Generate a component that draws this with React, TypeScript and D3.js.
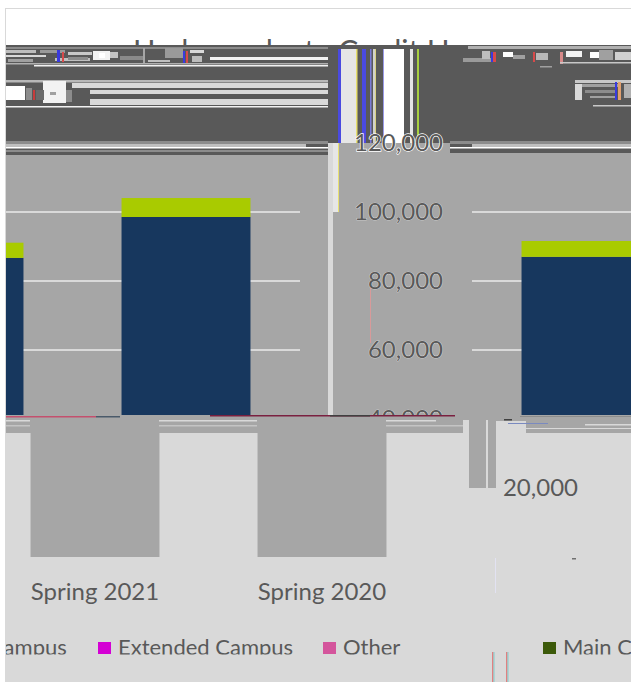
import React, { useEffect, useRef } from "react";
import * as d3 from "d3";

const terms = ["Spring 2022", "Spring 2021", "Spring 2020"];
const mainHours = [86700, 98550, 87000];
const regionalHours = [4400, 5500, 4600];
const yTicks = [0, 20000, 40000, 60000, 80000, 100000, 120000];
const legendLabels = ["Regional Campus", "Extended Campus", "Other", "Main Campus"];
const legendColors = ["#7f7f7f", "#d400d4", "#d4559c", "#3c5a0a"];
const legendX = [-119, 98, 323, 543];

const width = 631;
const height = 682;
const font = "Lato, 'Open Sans', sans-serif";

// the picture is broken up: these pieces are not data, just the damaged bands
type Piece = [number, number, number, number, string];
const dark = "#595959";
const panel = "#a6a6a6";
const pale = "#d9d9d9";

const backdrop: Piece[] = [
  [5, 8, 626, 674, pale],
  [6, 9, 625, 36, "#ffffff"],
  [6, 45, 625, 98, dark],
  [6, 143, 625, 290, panel],
  [6, 140, 322, 15, dark],
  [450, 140, 181, 13, dark],
];

const streaks: Piece[] = [
  // left text rows
  [6, 47, 322, 2, "#8c8c8c"],
  [34, 65, 294, 1.5, "#f2f2f2"],
  [6, 63, 322, 1.5, "#b0b0b0"],
  [210, 57, 118, 3, "#f2f2f2"],
  [6, 80, 322, 2.5, "#b8b8b8"],
  [72, 83, 256, 5, pale],
  [90, 90, 238, 4, pale],
  [90, 99, 238, 6, pale],
  [6, 106, 322, 1.5, "#f2f2f2"],
  [6, 141, 322, 3, "#8c8c8c"],
  [6, 144, 300, 3, "#bfbfbf"],
  [6, 147, 322, 1.5, "#ffffff"],
  [6, 150, 322, 2, "#8c8c8c"],
  // blocks of squashed text
  [6, 86, 19, 14, "#ffffff"],
  [43, 81, 23, 22, "#f2f2f2"],
  [50, 92, 6, 3, "#a0a0a0"],
  [66, 90, 6, 12, "#8c8c8c"],
  [26, 88, 6, 12, "#8c8c8c"],
  [33, 90, 2, 10, "#c83c3c"],
  [36, 90, 8, 10, "#6a6a6a"],
  [6, 50, 30, 3, "#bdbdbd"],
  [6, 55, 40, 2, pale],
  [8, 59, 25, 3, "#a0a0a0"],
  [40, 50, 25, 3, "#9a9a9a"],
  [55, 58, 35, 3, "#c0c0c0"],
  [57, 50, 3, 12, "#3a3adf"],
  [62, 52, 2, 10, "#d84a4a"],
  [68, 52, 24, 3, "#c8c8c8"],
  [68, 57, 20, 3, "#8c8c8c"],
  [93, 51, 17, 9, "#f2f2f2"],
  [99, 53, 6, 5, "#ffffff"],
  [110, 52, 8, 6, "#c4c4c4"],
  [120, 56, 24, 4, "#8a8a8a"],
  [143, 48, 2, 15, "#a6a6a6"],
  [148, 60, 22, 2, "#c0c0c0"],
  [165, 48, 18, 10, "#9a9a9a"],
  [183, 51, 2, 12, "#3a3adf"],
  [186, 51, 2, 12, "#d84a4a"],
  [190, 50, 14, 3, pale],
  [192, 56, 10, 6, "#bdbdbd"],
  // right text rows
  [468, 46, 163, 3, "#b0b0b0"],
  [463, 58, 28, 4, "#9a9a9a"],
  [482, 51, 8, 8, "#bdbdbd"],
  [491, 52, 2, 10, "#3a3adf"],
  [493, 52, 3, 10, "#d84a4a"],
  [503, 52, 10, 5, "#ffffff"],
  [513, 55, 12, 4, "#a0a0a0"],
  [533, 52, 2, 10, "#d84a4a"],
  [536, 53, 12, 7, "#b8b8b8"],
  [560, 52, 3, 12, "#d88a8a"],
  [566, 51, 16, 6, "#f2f2f2"],
  [590, 52, 9, 6, "#ffffff"],
  [599, 50, 14, 10, "#a0a0a0"],
  [615, 52, 16, 8, "#d0d0d0"],
  [560, 62, 71, 1.5, "#c8c8c8"],
  [540, 66, 12, 1.5, "#a0a0a0"],
  [575, 80, 56, 3, "#c8c8c8"],
  [575, 84, 7, 16, pale],
  [582, 84, 38, 3, "#a0a0a0"],
  [585, 90, 30, 3, "#8c8c8c"],
  [590, 96, 25, 2, "#a0a0a0"],
  [615, 82, 2, 18, "#3a3adf"],
  [618, 82, 3, 18, "#e0a070"],
  [624, 84, 7, 14, "#b0b0b0"],
  [593, 105, 38, 1.5, "#c8c8c8"],
  [450, 141, 181, 3, "#8c8c8c"],
  [472, 144, 159, 3, "#bfbfbf"],
  [450, 147, 181, 1.5, "#ffffff"],
  // column of stretched text
  [338, 49, 3, 94, "#4a4ae0"],
  [341, 49, 15, 94, "#e6e6e6"],
  [356, 49, 1.5, 94, "#e8e070"],
  [362, 49, 4, 94, "#4a4ae0"],
  [370, 49, 1.5, 94, "#7a7ad8"],
  [373, 49, 2, 94, "#d0d0d0"],
  [375, 49, 1, 94, "#d8d080"],
  [383, 49, 1, 94, "#9a9ae8"],
  [384, 49, 20, 94, "#ffffff"],
  [410, 49, 3, 94, "#e6e6e6"],
  [417, 49, 2, 94, "#a8d040"],
  // strip beside the axis
  [328, 143, 5, 272, pale],
  [333, 143, 5, 69, "#e6e6e6"],
  [338, 143, 1, 69, "#e8e070"],
  [370, 287, 1, 56, "#d89a9a"],
  // seam under the plot
  [6, 416, 90, 1.5, "#c4506e"],
  [96, 416, 24, 1.5, "#4a5a6a"],
  [210, 415, 245, 1.5, "#7a2040"],
  [330, 415, 40, 1.5, "#404040"],
  [520, 416, 111, 1, "#8c8c8c"],
  [6, 420, 24, 1.5, pale],
  [159, 420, 98, 1.5, pale],
  [386, 420, 50, 1.5, pale],
  [6, 425, 24, 1.5, "#c4c4c4"],
  [159, 425, 98, 1.5, "#c4c4c4"],
  [386, 425, 77, 1.5, "#c4c4c4"],
  [585, 424, 46, 1.5, pale],
  // lower right notch
  [463, 420, 6, 13, pale],
  [469, 420, 17, 68, panel],
  [486, 420, 2, 68, pale],
  [488, 420, 8, 68, panel],
  [496, 421, 30, 12, pale],
  [504, 419, 8, 1.5, "#404040"],
  [508, 423, 40, 1, "#7a8ac0"],
  [526, 428, 105, 1, pale],
  [572, 558, 4, 1.5, "#707070"],
  [495, 558, 1, 35, "#e2e2f2"],
  [492, 652, 1.5, 30, "#e08080"],
  [493.5, 652, 1, 30, "#80d0d0"],
  [506, 652, 1.5, 30, "#e08080"],
  [507.5, 652, 1, 30, "#80d0d0"],
];

export default function App() {
  const svgRef = useRef<SVGSVGElement>(null);

  useEffect(() => {
    if (!svgRef.current) return;

    const svg = d3.select(svgRef.current);
    svg.selectAll("*").remove();

    const x = d3
      .scaleBand()
      .domain(terms)
      .range([-245.5, 435.5])
      .paddingInner(0.432)
      .paddingOuter(0.216);
    const y = d3.scaleLinear().domain([0, 120000]).range([557, 143]);

    const rows = terms.map((term, i) => ({
      term,
      main: mainHours[i],
      regional: regionalHours[i],
    }));
    const stacked = d3.stack<any>().keys(["main", "regional"])(rows);

    const defs = svg.append("defs");
    const clip = (id: string, cx: number, cy: number, w: number, h: number) =>
      defs.append("clipPath").attr("id", id).append("rect").attr("x", cx).attr("y", cy).attr("width", w).attr("height", h);
    clip("titleClip", 6, 9, 625, 37);
    clip("upperClip", 6, 143, 625, 272);
    clip("lowerClip", 6, 417, 625, 265);
    clip("labelClip", 340, 130, 110, 285);
    clip("midLabelClip", 500, 470, 100, 35);
    clip("legendClip", 6, 630, 625, 24.5);

    const paint = (pieces: Piece[]) =>
      svg
        .append("g")
        .selectAll("rect")
        .data(pieces)
        .enter()
        .append("rect")
        .attr("x", (d) => d[0])
        .attr("y", (d) => d[1])
        .attr("width", (d) => d[2])
        .attr("height", (d) => d[3])
        .attr("fill", (d) => d[4]);

    paint(backdrop);

    // Title, only its top survives
    svg
      .append("text")
      .attr("clip-path", "url(#titleClip)")
      .attr("x", 320)
      .attr("y", 62)
      .attr("text-anchor", "middle")
      .attr("font-family", font)
      .attr("font-size", 30)
      .attr("fill", dark)
      .text("Undergraduate Credit Hours");

    // Grid lines
    const upper = svg.append("g").attr("clip-path", "url(#upperClip)");
    [[6, 300], [472, 631]].forEach(([x0, x1]) => {
      upper
        .append("g")
        .selectAll("line")
        .data(yTicks.filter((t) => t >= 60000 && t <= 100000))
        .enter()
        .append("line")
        .attr("x1", x0)
        .attr("x2", x1)
        .attr("y1", (d) => y(d))
        .attr("y2", (d) => y(d))
        .attr("stroke", pale)
        .attr("stroke-width", 2);
    });

    // Bars, upper fragment is shifted sideways
    const shift: Record<string, number> = { "Spring 2022": 91, "Spring 2021": 91, "Spring 2020": 264 };
    const colors = ["#17375e", "#a9cb00"];
    stacked.forEach((layer, i) => {
      upper
        .append("g")
        .selectAll("rect")
        .data(layer)
        .enter()
        .append("rect")
        .attr("x", (d: any) => (x(d.data.term) as number) + shift[d.data.term])
        .attr("y", (d: any) => y(d[1]))
        .attr("width", x.bandwidth())
        .attr("height", (d: any) => y(d[0]) - y(d[1]))
        .attr("fill", colors[i]);
    });

    // Same bars below the seam, drawn without their colours
    svg
      .append("g")
      .attr("clip-path", "url(#lowerClip)")
      .selectAll("rect")
      .data(rows)
      .enter()
      .append("rect")
      .attr("x", (d) => x(d.term) as number)
      .attr("y", (d) => y(d.main + d.regional))
      .attr("width", x.bandwidth())
      .attr("height", (d) => y(0) - y(d.main + d.regional))
      .attr("fill", panel);

    paint(streaks);

    // Axes
    const styleAxis = (g: any) => {
      g.select(".domain").remove();
      g.selectAll("line").remove();
      g.selectAll("text").attr("font-family", font).attr("font-size", 24).attr("fill", dark);
    };
    const axis = d3
      .axisLeft(y)
      .tickValues(yTicks)
      .tickSize(0)
      .tickPadding(0)
      .tickFormat((d) => d3.format(",")(d as number));

    svg
      .append("g")
      .attr("clip-path", "url(#labelClip)")
      .append("g")
      .attr("transform", "translate(443,0)")
      .call(axis)
      .call(styleAxis)
      .selectAll("text")
      .attr("stroke", (d: any) => (d === 120000 ? "#ffffff" : "#e2e2e2"))
      .attr("stroke-width", (d: any) => (d === 120000 ? 1.4 : 0.7))
      .attr("paint-order", "stroke");
    svg.append("g").attr("clip-path", "url(#midLabelClip)").append("g").attr("transform", "translate(578,0)").call(axis).call(styleAxis);

    svg
      .append("g")
      .attr("transform", "translate(0,583)")
      .call(d3.axisBottom(x).tickSize(0).tickPadding(0))
      .call(styleAxis)
      .selectAll("text")
      .attr("dy", "0.71em");

    // Legend
    const legend = svg.append("g").attr("clip-path", "url(#legendClip)");
    legendLabels.forEach((label, i) => {
      legend.append("rect").attr("x", legendX[i]).attr("y", 642).attr("width", 13).attr("height", 12).attr("fill", legendColors[i]);
      legend
        .append("text")
        .attr("x", legendX[i] + 20)
        .attr("y", 655)
        .attr("font-family", font)
        .attr("font-size", 22)
        .attr("fill", dark)
        .text(label);
    });
  }, []);

  return (
    <svg
      ref={svgRef}
      width={width}
      height={height}
      viewBox={`0 0 ${width} ${height}`}
      style={{ position: "absolute", left: 0, top: 0, background: "#ffffff" }}
    />
  );
}
